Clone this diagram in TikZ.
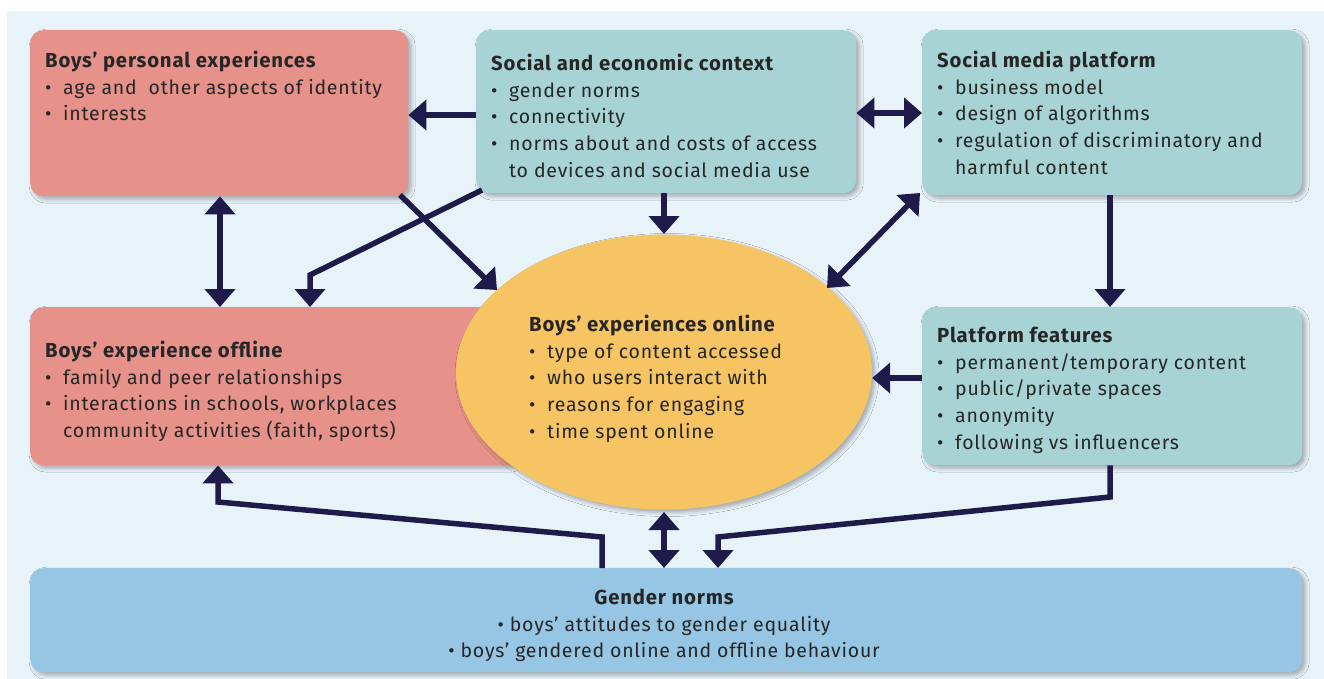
\documentclass[tikz,border=0pt]{standalone}
\usepackage{fontspec}
\setmainfont{Fira Sans}[LetterSpace=4]
\usetikzlibrary{arrows.meta,shapes.geometric,shadows.blur}

\definecolor{bgblue}{HTML}{E8F2F9}
\definecolor{salmon}{HTML}{E6918A}
\definecolor{teal}{HTML}{A8D3D4}
\definecolor{sun}{HTML}{F6C463}
\definecolor{sky}{HTML}{96C6E4}
\definecolor{navy}{HTML}{1E1B4B}
\definecolor{ink}{HTML}{262626}

\newcommand{\bu}{\makebox[18pt][l]{\textbullet}}
\newcommand{\ind}{\hspace*{18pt}}
\newcommand{\hd}[1]{{\fontsize{20.3}{26.6}\selectfont\bfseries #1}}

\tikzset{
  box/.style={rounded corners=13pt, draw=none, anchor=north west, inner sep=0pt,
    blur shadow={shadow xshift=3pt, shadow yshift=-3pt, shadow blur radius=4pt, shadow opacity=30}},
  txt/.style={anchor=north west, inner sep=0pt, align=left, text=ink,
    font=\fontsize{19.5}{26.6}\selectfont},
  arr/.style={draw=navy, line width=5.5pt, -{Triangle[width=30pt,length=18pt]}},
  darr/.style={draw=navy, line width=5.5pt, {Triangle[width=30pt,length=18pt]}-{Triangle[width=30pt,length=18pt]}},
}

\begin{document}
\begin{tikzpicture}[x=1pt,y=-1pt]
\useasboundingbox (0,0) rectangle (1324,679);
\fill[bgblue] (7,11) rectangle (1324,679);

% boxes
\node[box, fill=salmon, minimum width=378pt, minimum height=166pt] (A) at (30,30) {};
\node[box, fill=teal, minimum width=380pt, minimum height=163pt] (B) at (476,30) {};
\node[box, fill=teal, minimum width=380pt, minimum height=165pt] (C) at (922,30) {};
\node[box, fill=salmon, minimum width=490pt, minimum height=158pt] (D) at (30,307) {};
\node[box, fill=teal, minimum width=380pt, minimum height=158pt] (F) at (922,307) {};
\node[box, fill=sky, minimum width=1272pt, minimum height=104pt] (G) at (30,568) {};
\node[ellipse, fill=sun, minimum width=416pt, minimum height=275pt, inner sep=0pt,
  blur shadow={shadow xshift=3pt, shadow yshift=-3pt, shadow blur radius=4pt, shadow opacity=30}] (E) at (664,372) {};

% texts
\node[txt] (tA) at (45,51) {\hd{Boys’ personal experiences}\\
  \bu age and\ \ other aspects of identity\\
  \bu interests};
\node[txt] (tB) at (491,54) {\hd{Social and economic context}\\
  \bu gender norms\\
  \bu connectivity\\
  \bu norms about and costs of access\\
  \ind to devices and social media use};
\node[txt] (tC) at (937,51) {\hd{Social media platform}\\
  \bu business model\\
  \bu design of algorithms\\
  \bu regulation of discriminatory and\\
  \ind harmful content};
\node[txt] (tD) at (45,341) {\hd{Boys’ experience offline}\\
  \bu family and peer relationships\\
  \bu interactions in schools, workplaces\\
  \ind community activities (faith, sports)};
\node[txt] (tE) at (529,315) {\hd{Boys’ experiences online}\\
  \bu type of content accessed\\
  \bu who users interact with\\
  \bu reasons for engaging\\
  \bu time spent online};
\node[txt] (tF) at (937,327) {\hd{Platform features}\\
  \bu permanent/temporary content\\
  \bu public/private spaces\\
  \bu anonymity\\
  \bu following vs influencers};
\node[txt, anchor=north, align=center] (tG) at (664,589) {\hd{Gender norms}\\
  \textbullet\ boys’ attitudes to gender equality\\
  \textbullet\ boys’ gendered online and offline behaviour};

% connectors
\coordinate (bd1) at (310,275);
\coordinate (eTop) at (664,234);
\coordinate (gl1) at (602,537);
\coordinate (gl2) at (218,502);
\coordinate (fr1) at (1110,497);
\coordinate (fr2) at (718,537);

\draw[arr] (B.west |- 0,115) -- (A.east |- 0,115);
\draw[darr] (B.east |- 0,113) -- (C.west |- 0,113);
\draw[darr] (A.south -| 220,0) -- (D.north -| 220,0);
\draw[arr] (482,190) -- (bd1) -- (D.north -| bd1);
\draw[arr] (400,195) -- (497,290);
\draw[arr] (B.south -| eTop) -- (eTop);
\draw[darr] (920,193) -- (827,288);
\draw[arr] (C.south -| 1110,0) -- (F.north -| 1110,0);
\draw[arr] (F.west |- 0,378) -- (E.east |- 0,378);
\draw[arr] (G.north -| gl1) -- (gl1) -- (gl2) -- (D.south -| gl2);
\draw[darr] (664,512) -- (G.north -| 664,0);
\draw[arr] (F.south -| fr1) -- (fr1) -- (fr2) -- (G.north -| fr2);
\end{tikzpicture}
\end{document}
